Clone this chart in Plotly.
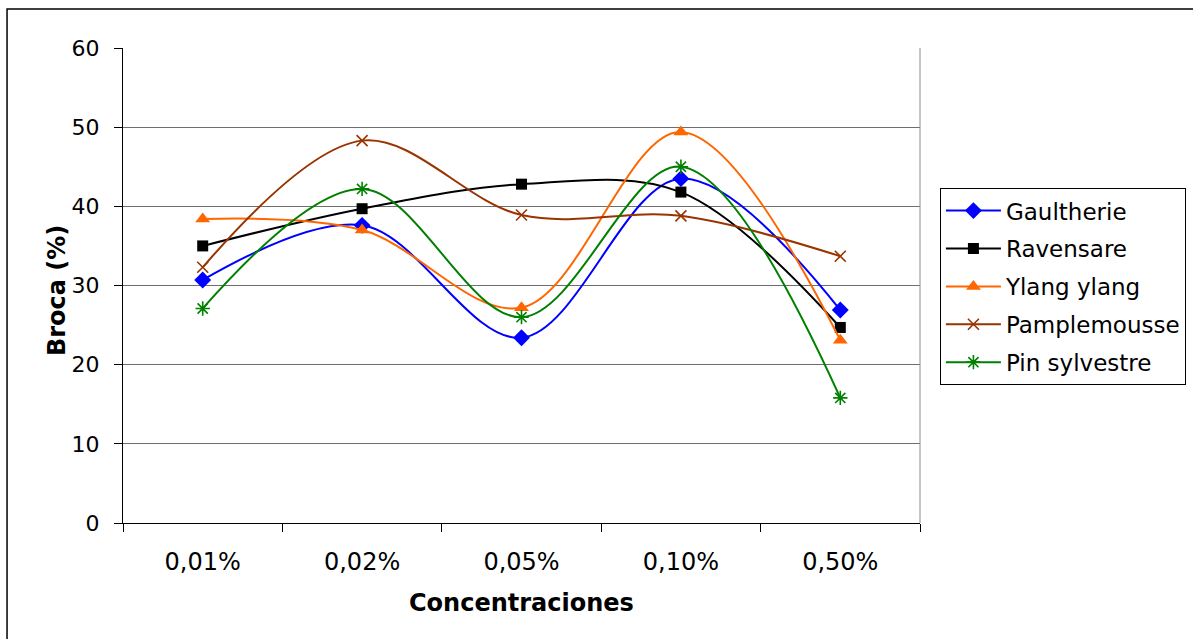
import plotly.graph_objects as go

concentraciones = ["0,01%", "0,02%", "0,05%", "0,10%", "0,50%"]

gaultherie = [30.7, 37.6, 23.4, 43.5, 26.9]
ravensare = [35.0, 39.7, 42.8, 41.8, 24.7]
ylang_ylang = [38.4, 37.0, 27.2, 49.4, 23.1]
pamplemousse = [32.3, 48.3, 38.9, 38.8, 33.7]
pin_sylvestre = [27.1, 42.2, 26.0, 45.0, 15.8]

y_ticks = [0, 10, 20, 30, 40, 50, 60]

series = [
    ("Gaultherie", gaultherie, "#0000FF", "diamond", 13),
    ("Ravensare", ravensare, "#000000", "square", 11),
    ("Ylang ylang", ylang_ylang, "#FF6600", "triangle-up", 13),
    ("Pamplemousse", pamplemousse, "#993300", "x-thin", 11),
    ("Pin sylvestre", pin_sylvestre, "#008000", "asterisk", 12),
]

FONT = "DejaVu Sans, Verdana, sans-serif"

fig = go.Figure()
for name, vals, color, symbol, size in series:
    thin = symbol in ("x-thin", "asterisk")
    fig.add_trace(go.Scatter(
        x=concentraciones,
        y=vals,
        name=name,
        legendgroup=name,
        mode="lines+markers",
        line=dict(color=color, width=2, shape="spline", smoothing=1),
        marker=dict(
            symbol=symbol,
            size=size,
            color=color,
            line=dict(color=color, width=1.6 if thin else 0),
        ),
    ))

fig.update_layout(
    width=1193,
    height=639,
    margin=dict(l=123, r=273, t=48, b=116, autoexpand=False),
    paper_bgcolor="white",
    plot_bgcolor="white",
    font=dict(family=FONT, size=22, color="black"),
    showlegend=True,
    legend=dict(
        x=1.025, y=0.705, xanchor="left", yanchor="top",
        bordercolor="black", borderwidth=1, bgcolor="white",
        font=dict(family=FONT, size=23, color="black"),
        itemwidth=55,
        tracegroupgap=5,
    ),
    xaxis=dict(
        type="category",
        tickson="boundaries",
        ticks="outside", ticklen=8, tickcolor="black", tickwidth=1,
        showline=True, linecolor="black", linewidth=1,
        showgrid=False,
        ticklabelstandoff=17,
        tickfont=dict(family=FONT, size=24),
        range=[-0.5, 4.5],
    ),
    yaxis=dict(
        range=[0, 60],
        tickvals=y_ticks,
        ticks="outside", ticklen=8, tickcolor="black", tickwidth=1,
        showline=True, linecolor="black", linewidth=1,
        showgrid=True, gridcolor="#6e6e6e", gridwidth=1,
        zeroline=False,
        ticklabelstandoff=10,
        tickfont=dict(family=FONT, size=22),
    ),
    annotations=[
        dict(text="<b>Concentraciones</b>", xref="paper", yref="paper",
             x=0.5, y=-0.168, xanchor="center", yanchor="middle",
             showarrow=False, font=dict(family=FONT, size=24)),
        dict(text="<b>Broca (%)</b>", xref="paper", yref="paper",
             x=-0.083, y=0.49, xanchor="center", yanchor="middle",
             textangle=-90, showarrow=False, font=dict(family=FONT, size=24)),
    ],
    shapes=[
        # right edge of the plotting area
        dict(type="line", xref="paper", yref="paper", x0=1, x1=1, y0=0, y1=1,
             line=dict(color="#8c8c8c", width=1)),
        # chart frame
        dict(type="rect", xref="paper", yref="paper",
             x0=-0.1455, x1=1.36, y0=-0.27, y1=1.082,
             line=dict(color="black", width=1.5), layer="below"),
    ],
)

fig.write_html("out.html")
